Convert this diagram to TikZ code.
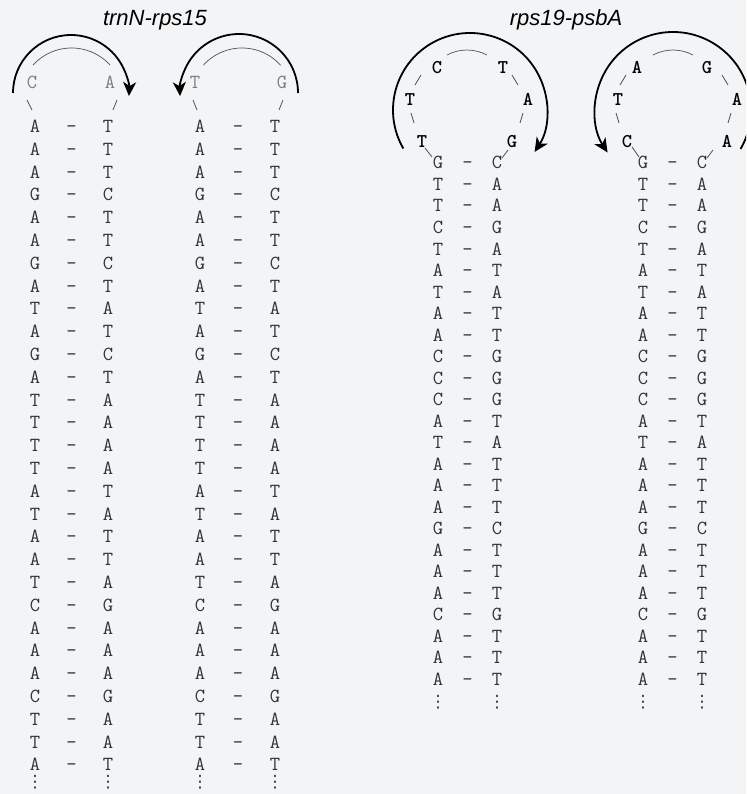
\documentclass[tikz,border=0pt]{standalone}
\usepackage{fontspec}
\newfontfamily\titlefont{Liberation Sans}
\newfontfamily\dotsfont{DejaVu Sans}
\usetikzlibrary{arrows.meta}
\definecolor{bg}{RGB}{243,244,246}
\definecolor{stemc}{RGB}{50,50,50}
\definecolor{loopc}{RGB}{125,125,125}
\definecolor{thinc}{RGB}{80,80,80}
\tikzset{
  base/.style={font=\fontsize{20}{20}\selectfont\ttfamily, text=stemc, inner sep=0pt, text height=12pt, text depth=0pt, anchor=center},
  loopg/.style={base, text=loopc},
  loopb/.style={base, font=\fontsize{19.5}{19.5}\selectfont\ttfamily\bfseries, text=black},
  vdotsnode/.style={inner sep=0pt, text=stemc, font=\fontsize{17}{17}\selectfont\dotsfont, anchor=center},
  titlenode/.style={font=\fontsize{22}{22}\selectfont\titlefont\itshape, inner sep=0pt},
  bigarc/.style={line width=1.8pt, draw=black, -{Stealth[length=14pt,width=13pt,inset=4pt]}},
  thinarc/.style={line width=0.7pt, draw=thinc},
  tick/.style={line width=0.8pt, draw=thinc},
}
\begin{document}
\begin{tikzpicture}[x=1pt,y=1pt]
\useasboundingbox (0,0) rectangle (746,-794);
\fill[bg] (0,0) rectangle (746,-794);
\clip (0,0) rectangle (746,-794);

% titles
\node[titlenode] (t1) at (155,-20) {trnN-rps15};
\node[titlenode] (t2) at (566,-20) {rps19-psbA};

% ---------- left group stems ----------
\foreach \b/\c [count=\i] in {A/T,A/T,A/T,G/C,A/T,A/T,G/C,A/T,T/A,A/T,G/C,A/T,T/A,T/A,T/A,T/A,A/T,T/A,A/T,A/T,T/A,C/G,A/A,A/A,A/A,C/G,T/A,T/A,A/T}{
  \pgfmathsetmacro\yy{-126.5-(\i-1)*22.8}
  \node[base] (sal\i) at (35,\yy) {\b};
  \node[base] (sad\i) at (71.5,\yy) {-};
  \node[base] (sar\i) at (108,\yy) {\c};
  \node[base] (sbl\i) at (200,\yy) {\b};
  \node[base] (sbd\i) at (238,\yy) {-};
  \node[base] (sbr\i) at (275,\yy) {\c};
}
\node[vdotsnode] (dal) at (35,-782.5) {⋮};
\node[vdotsnode] (dar) at (108,-782.5) {⋮};
\node[vdotsnode] (dbl) at (200,-782.5) {⋮};
\node[vdotsnode] (dbr) at (275,-782.5) {⋮};

% ---------- right group stems ----------
\foreach \b/\c [count=\i] in {G/C,T/A,T/A,C/G,T/A,A/T,T/A,A/T,A/T,C/G,C/G,C/G,A/T,T/A,A/T,A/T,A/T,G/C,A/T,A/T,A/T,C/G,A/T,A/T,A/T}{
  \pgfmathsetmacro\yy{-163-(\i-1)*21.5}
  \node[base] (scl\i) at (438,\yy) {\b};
  \node[base] (scd\i) at (467.5,\yy) {-};
  \node[base] (scr\i) at (497,\yy) {\c};
  \node[base] (sdl\i) at (643,\yy) {\b};
  \node[base] (sdd\i) at (672.5,\yy) {-};
  \node[base] (sdr\i) at (702,\yy) {\c};
}
\node[vdotsnode] (dcl) at (438,-702) {⋮};
\node[vdotsnode] (dcr) at (497,-702) {⋮};
\node[vdotsnode] (ddl) at (643,-702) {⋮};
\node[vdotsnode] (ddr) at (702,-702) {⋮};

% ---------- loop 1 ----------
\node[loopg] (l1a) at (32,-83) {C};
\node[loopg] (l1b) at (110,-83) {A};
\draw[tick] (27,-100) -- (32,-110);
\draw[tick] (113,-110) -- (117,-100);
\draw[thinarc] (32.9,-65.2) arc[start angle=138,end angle=42,radius=52];
\coordinate (a1s) at (13,-93);
\draw[bigarc] (a1s) arc[start angle=180,end angle=-3,radius=58];

% ---------- loop 2 ----------
\node[loopg] (l2a) at (195,-83) {T};
\node[loopg] (l2b) at (282,-83) {G};
\draw[tick] (193,-100) -- (197,-110);
\draw[tick] (279,-110) -- (283,-100);
\draw[thinarc] (280.6,-65.2) arc[start angle=42,end angle=138,radius=52];
\coordinate (a2s) at (298,-93);
\draw[bigarc] (a2s) arc[start angle=0,end angle=183,radius=59];

% ---------- loop 3 ----------
\node[loopb] (l3a) at (437,-68) {C};
\node[loopb] (l3b) at (503,-68) {T};
\node[loopb] (l3c) at (410,-100) {T};
\node[loopb] (l3d) at (528,-100) {A};
\node[loopb] (l3e) at (422,-142) {T};
\node[loopb] (l3f) at (512,-142) {G};
\draw[tick] (415,-85) -- (421,-75);
\draw[tick] (411,-113) -- (414,-123);
\draw[tick] (425,-148) -- (432,-157);
\draw[tick] (512,-75) -- (518,-85);
\draw[tick] (520,-123) -- (523,-113);
\draw[tick] (502,-158) -- (508,-150);
\draw[thinarc] ({467-20},-55) arc[start angle=118,end angle=62,radius=42.5];
\coordinate (a3s) at ({470+77*cos(210)},{-110+77*sin(210)});
\draw[bigarc] (a3s) arc[start angle=210,end angle=-33,radius=77];

% ---------- loop 4 ----------
\node[loopb] (l4a) at (637,-68) {A};
\node[loopb] (l4b) at (707,-68) {G};
\node[loopb] (l4c) at (618,-100) {T};
\node[loopb] (l4d) at (737,-100) {A};
\node[loopb] (l4e) at (627,-142) {C};
\node[loopb] (l4f) at (727,-142) {A};
\draw[tick] (620,-85) -- (626,-75);
\draw[tick] (616,-113) -- (619,-123);
\draw[tick] (632,-147) -- (639,-157);
\draw[tick] (722,-75) -- (728,-85);
\draw[tick] (728,-123) -- (731,-113);
\draw[tick] (707,-158) -- (713,-150);
\draw[thinarc] ({673-20},-55) arc[start angle=118,end angle=62,radius=42.5];
\coordinate (a4s) at ({673+78*cos(-30)},{-110+78*sin(-30)});
\draw[bigarc] (a4s) arc[start angle=-30,end angle=213,radius=78];
\end{tikzpicture}
\end{document}
